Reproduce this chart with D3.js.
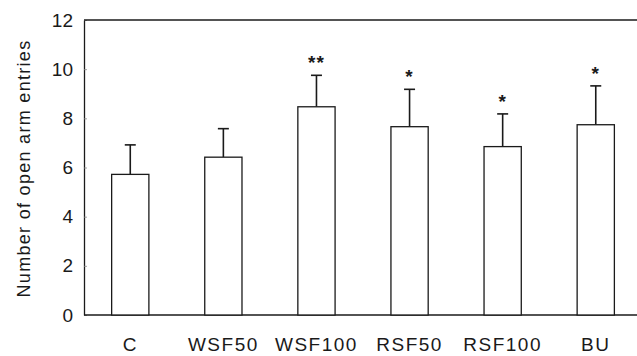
<!DOCTYPE html>
<html>
<head>
<meta charset="utf-8">
<script src="https://cdn.jsdelivr.net/npm/d3@7"></script>
<style>
  body { margin: 0; background: #fff; }
  svg { display: block; font-family: Arial, "Liberation Sans", sans-serif; }
</style>
</head>
<body>
<svg width="637" height="356"></svg>
<script>
// group names, means, SEM and significance marks
var groups = ["C", "WSF50", "WSF100", "RSF50", "RSF100", "BU"];
var means = [5.72, 6.42, 8.47, 7.66, 6.85, 7.74];
var errors = [1.2, 1.16, 1.28, 1.52, 1.33, 1.58];
var stars = ["", "", "**", "*", "*", "*"];
var y_ticks = [0, 2, 4, 6, 8, 10, 12];

var w = 637, h = 356;
var m_left = 84, m_top = 20, m_bottom = 315, m_right = 637;
var ink = "#1a1a1a";

var svg = d3.select("svg");

var x = d3.scaleBand()
  .domain(groups)
  .range([m_left, m_right])
  .paddingInner(0.6)
  .paddingOuter(0.27)
  .align(0.55);

var y = d3.scaleLinear()
  .domain([0, 12])
  .range([m_bottom, m_top]);

var data = groups.map(function(g, i) {
  return { name: g, mean: means[i], err: errors[i], star: stars[i] };
});

// y axis with tiny inward ticks
var yAxis = svg.append("g")
  .attr("transform", "translate(" + m_left + ",0)")
  .call(d3.axisLeft(y).tickValues(y_ticks).tickSizeInner(-3).tickSizeOuter(0).tickPadding(11));

yAxis.select(".domain").attr("stroke", ink).attr("stroke-width", 1.3);
yAxis.selectAll(".tick line").attr("stroke", "#888").attr("stroke-width", 0.8);
yAxis.selectAll(".tick text")
  .attr("fill", ink)
  .style("font-size", "19px");

// top and bottom frame lines
svg.append("line")
  .attr("x1", m_left).attr("x2", m_right)
  .attr("y1", y(12)).attr("y2", y(12))
  .attr("stroke", ink).attr("stroke-width", 1.3);
svg.append("line")
  .attr("x1", m_left).attr("x2", m_right)
  .attr("y1", y(0)).attr("y2", y(0))
  .attr("stroke", ink).attr("stroke-width", 1.3);

// error bars (drawn first so bar outline sits on top)
var cap = 11;
var eb = svg.append("g").attr("stroke", ink).attr("stroke-width", 1.6);
data.forEach(function(d) {
  var cx = x(d.name) + x.bandwidth() / 2;
  eb.append("line")
    .attr("x1", cx).attr("x2", cx)
    .attr("y1", y(d.mean)).attr("y2", y(d.mean + d.err));
  eb.append("line")
    .attr("x1", cx - cap / 2).attr("x2", cx + cap / 2)
    .attr("y1", y(d.mean + d.err)).attr("y2", y(d.mean + d.err));
});

// bars
svg.append("g").selectAll("rect")
  .data(data)
  .join("rect")
  .attr("x", function(d) { return x(d.name); })
  .attr("y", function(d) { return y(d.mean); })
  .attr("width", x.bandwidth())
  .attr("height", function(d) { return y(0) - y(d.mean); })
  .attr("fill", "#fff")
  .attr("stroke", ink)
  .attr("stroke-width", 1.3);

// significance stars
svg.append("g").selectAll("text")
  .data(data)
  .join("text")
  .attr("x", function(d) { return x(d.name) + x.bandwidth() / 2; })
  .attr("y", function(d) { return y(d.mean + d.err) - 6; })
  .attr("text-anchor", "middle")
  .attr("fill", ink)
  .style("font-size", "19px")
  .style("font-weight", "bold")
  .style("letter-spacing", "1px")
  .text(function(d) { return d.star; });

// x labels
svg.append("g").selectAll("text")
  .data(groups)
  .join("text")
  .attr("x", function(d) { return x(d) + x.bandwidth() / 2; })
  .attr("y", 351)
  .attr("text-anchor", "middle")
  .attr("fill", ink)
  .style("font-size", "19px")
  .style("letter-spacing", "1.5px")
  .text(function(d) { return d; });

// y axis title
svg.append("text")
  .attr("transform", "translate(30," + ((m_top + m_bottom) / 2 + 1) + ") rotate(-90)")
  .attr("text-anchor", "middle")
  .attr("fill", ink)
  .style("font-size", "18px")
  .style("letter-spacing", "1.3px")
  .text("Number of open arm entries");
</script>
</body>
</html>
